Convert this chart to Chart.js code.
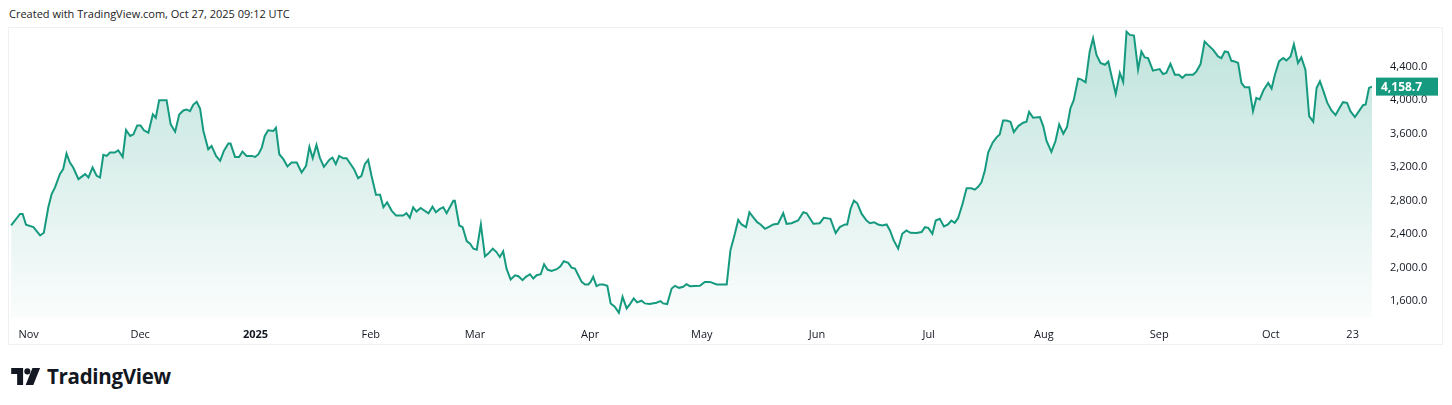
<!DOCTYPE html>
<html lang="en">
<head>
  <meta charset="UTF-8">
  <title>ETH chart</title>
  <script src="https://cdn.jsdelivr.net/npm/chart.js"></script>
  <style>
    body { margin: 0; width: 1452px; height: 405px; background: #fff; font-family: "Open Sans", Arial, sans-serif; position: relative; overflow: hidden; }
    #header { position: absolute; left: 9px; top: 6px; font-size: 11px; color: #222; }
    #box { position: absolute; left: 8px; top: 27px; width: 1433px; height: 316px; border: 1px solid #eef0f3; }
    #chart-container { position: absolute; left: 9px; top: 13px; width: 1432px; height: 330px; }
    #logo { position: absolute; left: 11px; top: 362px; font-size: 20.5px; font-weight: 700; color: #131722; display: flex; align-items: center; gap: 5px; letter-spacing: -0.3px; }
  </style>
</head>
<body>
  <div id="header">Created with TradingView.com, Oct 27, 2025 09:12 UTC</div>
  <div id="box"></div>
  <div id="chart-container"><canvas id="myChart"></canvas></div>
  <div id="logo">
    <svg width="31" height="17" viewBox="0 0 36 20"><path d="M0 0h14v20H7V7H0z" fill="#131722"/><circle cx="19" cy="4" r="3.6" fill="#131722"/><path d="M25 0h9l-8 20h-9z" fill="#131722"/></svg>
    <span>TradingView</span>
  </div>
  <script>
    // day offset from Oct 27 2024, price
    const days = [0.3,2.7,3.4,4.3,6.3,8.1,9.1,10.3,11.2,12.1,13.4,14.3,15.2,16.1,17.0,18.4,20.2,21.1,22.2,23.3,24.2,25.1,26.0,26.9,28.2,29.1,30.3,31.2,32.3,33.2,34.2,35.1,36.0,37.2,38.4,39.2,40.1,42.1,43.2,44.4,45.5,46.6,47.5,48.4,49.3,50.2,51.1,52.0,53.3,54.2,55.4,56.5,57.5,58.7,59.3,60.5,61.6,62.5,63.6,65.0,65.9,66.8,67.7,68.5,69.4,70.8,71.5,72.4,73.5,74.6,75.7,77.1,78.4,79.6,80.5,81.4,82.4,83.3,84.4,86.0,86.7,87.6,88.5,89.6,90.5,91.6,92.5,93.6,94.5,95.4,96.3,97.2,98.4,99.5,100.4,101.4,102.6,103.8,105.7,106.6,107.5,108.4,109.3,110.4,112.5,113.6,114.5,115.6,116.5,117.4,119.2,119.6,120.8,121.7,122.8,123.7,124.6,125.5,126.6,127.7,128.6,129.8,130.8,131.7,132.6,133.5,134.6,135.8,136.7,137.8,138.7,139.8,140.7,141.6,142.7,143.6,144.5,145.6,147.0,148.0,148.9,150.1,151.0,151.9,152.8,153.7,154.6,155.5,156.1,156.8,157.7,158.6,159.5,160.6,161.5,162.6,163.7,164.7,165.8,166.7,167.7,168.6,169.8,170.7,172.0,173.8,174.9,175.6,176.7,177.9,178.8,179.9,181.0,181.9,182.8,185.5,186.8,188.2,190.0,192.7,193.7,194.9,195.8,196.7,197.9,198.8,199.8,200.9,201.8,203.0,204.3,205.2,206.5,207.9,208.8,210.1,211.9,213.3,214.2,216.0,217.7,218.8,220.6,222.0,223.1,224.5,225.1,226.0,226.9,227.8,229.0,230.3,231.2,232.3,233.4,234.5,235.7,236.6,237.6,238.8,239.9,241.0,242.1,243.7,245.1,246.0,246.9,248.0,248.9,250.0,251.1,252.2,253.1,254.0,254.9,256.1,257.2,258.5,259.4,260.3,261.2,262.1,263.0,264.2,265.2,266.1,267.0,267.9,269.0,269.9,271.1,272.4,273.3,274.0,275.1,276.9,277.8,278.7,280.0,281.1,282.1,283.2,284.2,285.1,286.0,287.2,288.1,289.2,290.3,291.2,292.1,293.2,294.4,295.3,296.1,297.3,298.4,299.3,300.2,301.1,302.2,303.3,304.2,305.1,306.0,307.3,309.1,310.0,310.9,312.0,313.2,314.3,315.2,316.1,318.1,319.0,320.1,321.2,322.1,323.5,324.8,325.7,326.6,327.5,328.4,329.3,330.2,331.1,332.0,333.2,334.2,335.1,336.0,337.1,338.3,339.2,340.1,341.2,342.3,343.2,344.3,345.2,346.3,347.2,348.3,349.3,350.4,351.3,352.2,353.0,354.2,355.3,356.4,357.5,358.4,359.5,360.4,361.6,362.7,363.8,364.5,365.4,366.2];
    const prices = [2502,2640,2640,2510,2482,2383,2415,2719,2877,2956,3115,3174,3360,3253,3194,3055,3115,3075,3194,3095,3075,3344,3332,3372,3372,3399,3320,3641,3570,3589,3696,3696,3637,3609,3827,3787,3997,3997,3708,3621,3827,3874,3886,3866,3945,3977,3898,3629,3411,3451,3332,3273,3392,3479,3479,3320,3320,3384,3332,3332,3320,3352,3431,3570,3637,3629,3668,3352,3293,3206,3253,3253,3134,3214,3439,3304,3463,3312,3202,3293,3312,3233,3332,3304,3304,3233,3174,3067,3095,3233,3285,3095,2870,2870,2719,2779,2680,2620,2620,2648,2593,2719,2668,2711,2648,2727,2660,2700,2719,2648,2798,2798,2502,2482,2316,2284,2225,2213,2514,2134,2166,2225,2185,2126,2193,1987,1857,1908,1897,1849,1889,1920,1869,1908,1920,2039,1976,1960,1980,2015,2075,2055,1999,1987,1908,1829,1798,1798,1829,1889,1778,1798,1798,1782,1572,1533,1461,1651,1513,1564,1632,1584,1604,1572,1564,1580,1600,1572,1564,1750,1782,1758,1770,1802,1778,1782,1829,1829,1798,1798,2205,2403,2569,2514,2482,2660,2601,2541,2514,2462,2490,2514,2522,2648,2522,2529,2561,2660,2648,2522,2529,2593,2581,2411,2482,2514,2514,2699,2798,2767,2640,2561,2529,2541,2514,2502,2514,2442,2324,2225,2403,2442,2415,2411,2423,2482,2474,2403,2561,2581,2490,2514,2561,2533,2589,2759,2945,2945,2929,2964,3016,3154,3372,3490,3550,3589,3755,3755,3740,3617,3688,3728,3740,3858,3787,3795,3688,3510,3380,3510,3708,3597,3676,3898,3997,4254,4242,4210,4578,4736,4539,4440,4420,4459,4301,4072,4321,4214,4815,4776,4768,4361,4578,4507,4499,4349,4368,4309,4321,4432,4301,4301,4262,4301,4301,4341,4428,4697,4657,4598,4519,4499,4578,4570,4467,4459,4440,4202,4151,4151,3866,4024,4005,4123,4202,4135,4301,4459,4499,4471,4519,4665,4440,4507,4361,3807,3740,4143,4222,4123,3965,3874,3819,3906,3973,3965,3866,3795,3866,3937,3945,4143,4158.7];
    const tickDays = [5,35,66,97,125,156,186,217,247,278,309,339,361];
    const tickLabels = ['Nov','Dec','2025','Feb','Mar','Apr','May','Jun','Jul','Aug','Sep','Oct','23'];
    const yTicks = [1600,2000,2400,2800,3200,3600,4000,4400];
    const lastPrice = 4158.7;

    const green = '#169a7f';

    const lastLabel = {
      id: 'lastLabel',
      afterDraw(chart) {
        const ctx = chart.ctx;
        const y = chart.scales.y.getPixelForValue(lastPrice);
        const x = chart.chartArea.right + 4;
        ctx.save();
        ctx.fillStyle = green;
        ctx.fillRect(x, y - 9, 62, 18);
        ctx.fillStyle = '#fff';
        ctx.font = 'bold 12px "Open Sans", Arial';
        ctx.textBaseline = 'middle';
        ctx.fillText(lastPrice.toLocaleString('en-US', {minimumFractionDigits: 1}), x + 5, y + 1);
        ctx.restore();
      }
    };

    const ctx = document.getElementById('myChart').getContext('2d');
    const grad = ctx.createLinearGradient(0, 15, 0, 305);
    grad.addColorStop(0, 'rgba(22,154,127,0.28)');
    grad.addColorStop(1, 'rgba(22,154,127,0.02)');

    new Chart(ctx, {
      type: 'line',
      data: {
        datasets: [{
          data: days.map((d, i) => ({ x: d, y: prices[i] })),
          borderColor: green,
          backgroundColor: grad,
          borderWidth: 2,
          fill: 'start',
          pointRadius: 0,
          tension: 0
        }]
      },
      options: {
        responsive: true,
        maintainAspectRatio: false,
        animation: false,
        layout: { padding: { left: 1, top: 0, right: 0, bottom: 0 } },
        plugins: { legend: { display: false }, tooltip: { enabled: false } },
        scales: {
          x: {
            type: 'linear',
            min: 0,
            max: 366.2,
            grid: { display: false },
            border: { display: false },
            afterBuildTicks: s => { s.ticks = tickDays.map(v => ({ value: v })); },
            afterFit: s => { s.height = 25; },
            ticks: {
              maxRotation: 0,
              autoSkip: false,
              color: '#131722',
              font: ctx => ({ family: '"Open Sans", Arial', size: 11, weight: tickLabels[ctx.index] === '2025' ? 'bold' : 'normal' }),
              padding: 2,
              callback: (v, i) => tickLabels[i]
            }
          },
          y: {
            position: 'right',
            min: 1398,
            max: 4839,
            grid: { display: false },
            border: { display: false },
            afterBuildTicks: s => { s.ticks = yTicks.map(v => ({ value: v })); },
            afterFit: s => { s.width = 69; },
            ticks: {
              color: '#131722',
              font: { family: '"Open Sans", Arial', size: 11 },
              padding: 10,
              callback: v => v.toLocaleString('en-US', {minimumFractionDigits: 1})
            }
          }
        }
      },
      plugins: [lastLabel]
    });
  </script>
</body>
</html>
